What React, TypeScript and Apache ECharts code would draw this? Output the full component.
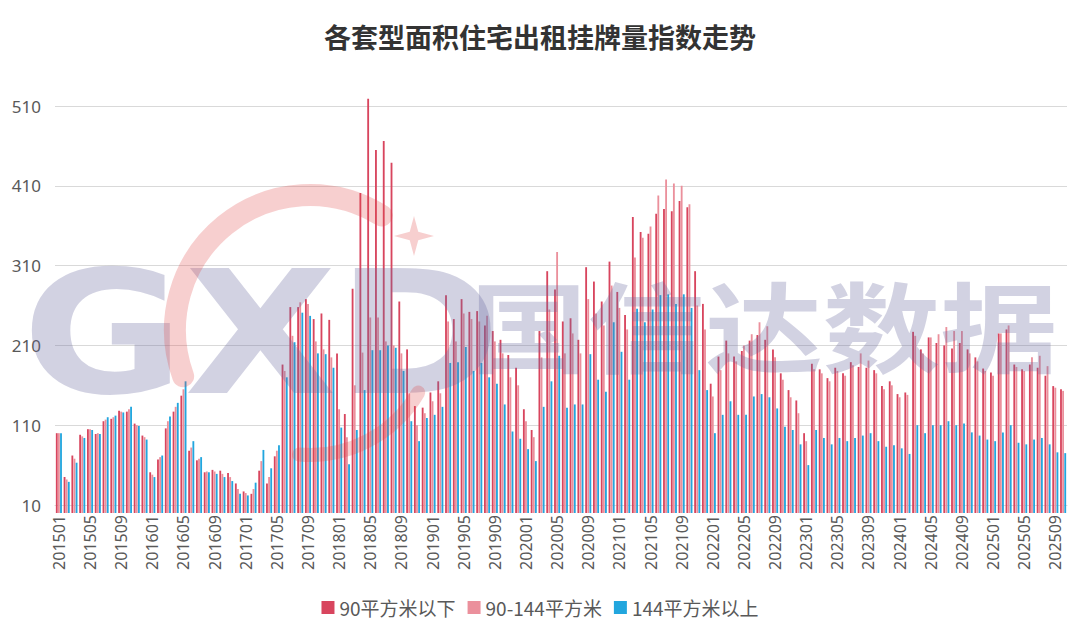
import React, { useEffect, useRef } from "react";
import * as echarts from "echarts";

const months: string[] = [];
for (let y = 2015; y <= 2025; y++) {
  for (let m = 1; m <= 12; m++) {
    if (y === 2025 && m > 10) break;
    months.push(`${y}${String(m).padStart(2, "0")}`);
  }
}

const seriesNames = ["90平方米以下", "90-144平方米", "144平方米以上"];

// 90平方米以下
const under90 = [
  100, 45, 72, 98, 105, 99, 115, 118, 128, 127, 112, 97,
  51, 67, 106, 127, 147, 78, 66, 51, 54, 53, 50, 37,
  27, 24, 53, 37, 71, 186, 258, 258, 268, 243, 250, 242,
  200, 124, 281, 401, 519, 455, 466, 439, 265, 205, 134, 132,
  151, 165, 273, 243, 268, 252, 253, 235, 228, 217, 198, 182,
  130, 104, 228, 303, 280, 240, 244, 217, 308, 290, 265, 315,
  277, 248, 371, 352, 350, 375, 381, 378, 391, 383, 303, 262,
  162, 196, 216, 196, 203, 216, 223, 217, 205, 175, 154, 141,
  100, 187, 180, 169, 182, 175, 189, 183, 182, 179, 159, 165,
  149, 151, 227, 205, 220, 213, 210, 206, 213, 205, 195, 181,
  176, 225, 230, 186, 180, 186, 182, 172, 159, 155,
];

// 90-144平方米
const mid90to144 = [
  100, 42, 68, 96, 105, 100, 117, 120, 127, 130, 110, 95,
  48, 70, 115, 133, 155, 82, 68, 52, 52, 49, 45, 30,
  25, 30, 65, 45, 78, 178, 222, 264, 262, 215, 205, 195,
  130, 95, 160, 201, 245, 245, 215, 210, 200, 150, 110, 125,
  140, 150, 240, 215, 250, 243, 240, 247, 215, 200, 170, 160,
  115, 95, 195, 255, 327, 200, 225, 200, 268, 250, 235, 285,
  257, 230, 320, 345, 359, 398, 418, 413, 410, 387, 260, 230,
  146, 179, 200, 190, 210, 224, 239, 234, 195, 167, 145, 125,
  90, 180, 175, 165, 178, 172, 185, 200, 191, 175, 155, 160,
  145, 148, 222, 200, 220, 224, 233, 228, 228, 200, 190, 178,
  172, 225, 235, 183, 178, 195, 197, 184, 157, 153,
];

// 144平方米以上
const over144 = [
  100, 39, 63, 94, 104, 99, 120, 122, 126, 133, 109, 92,
  45, 72, 121, 138, 165, 90, 70, 51, 49, 45, 40, 24,
  22, 38, 79, 56, 85, 170, 214, 251, 247, 200, 199, 182,
  107, 61, 104, 154, 204, 204, 210, 207, 178, 115, 90, 119,
  123, 133, 188, 189, 208, 178, 188, 170, 162, 136, 102, 93,
  80, 65, 133, 165, 197, 132, 136, 136, 199, 167, 152, 239,
  202, 167, 256, 239, 255, 273, 274, 262, 274, 257, 179, 154,
  100, 123, 140, 123, 123, 146, 149, 145, 131, 108, 104, 86,
  60, 104, 94, 86, 94, 90, 94, 97, 100, 90, 83, 85,
  81, 74, 110, 100, 110, 110, 115, 110, 112, 101, 97, 92,
  90, 101, 110, 88, 86, 92, 94, 86, 76, 75,
];

const yMin = 10;
const yMax = 510;
const yStep = 100;

const colors = ["#d8455e", "#eb909c", "#22a6de"];

const starPoints = (cx: number, cy: number, R: number, r: number) => {
  const pts: number[][] = [];
  for (let i = 0; i < 8; i++) {
    const a = (Math.PI / 4) * i - Math.PI / 2;
    const rad = i % 2 === 0 ? R : r;
    pts.push([cx + rad * Math.cos(a), cy + rad * Math.sin(a)]);
  }
  return pts;
};

export default function App() {
  const ref = useRef<HTMLDivElement>(null);
  useEffect(() => {
    if (!ref.current) return;
    const chart = echarts.init(ref.current, undefined, { renderer: "svg" });
    const wmColor = "rgba(106,106,160,0.3)";
    const redWm = "rgba(225,70,70,0.26)";
    chart.setOption({
      animation: false,
      backgroundColor: "#ffffff",
      title: {
        text: "各套型面积住宅出租挂牌量指数走势",
        left: "center",
        top: 18,
        textStyle: {
          fontFamily: "Noto Sans CJK SC",
          fontSize: 27,
          fontWeight: "bold",
          color: "#333333",
        },
      },
      legend: {
        data: seriesNames,
        bottom: 22,
        left: "center",
        icon: "rect",
        itemWidth: 13,
        itemHeight: 13,
        itemGap: 12,
        textStyle: {
          fontFamily: "Noto Sans CJK SC",
          fontSize: 19,
          color: "#595959",
        },
      },
      grid: { left: 55, right: 13, top: 106, bottom: 139, containLabel: false },
      xAxis: {
        type: "category",
        data: months,
        axisLine: { lineStyle: { color: "#d9d9d9" } },
        axisTick: { show: false },
        axisLabel: {
          interval: 3,
          rotate: 90,
          margin: 10,
          fontFamily: "Noto Sans",
          fontSize: 16,
          color: "#595959",
        },
      },
      yAxis: {
        type: "value",
        min: yMin,
        max: yMax,
        interval: yStep,
        axisLine: { show: false },
        axisTick: { show: false },
        splitLine: { lineStyle: { color: "#d9d9d9", width: 1 } },
        axisLabel: {
          margin: 14,
          fontFamily: "Noto Sans",
          fontSize: 17,
          color: "#595959",
        },
      },
      series: [under90, mid90to144, over144].map((d, i) => ({
        name: seriesNames[i],
        type: "bar",
        data: d,
        clip: false,
        barGap: "15%",
        barCategoryGap: "22%",
        itemStyle: { color: colors[i] },
      })),
      graphic: [
        {
          type: "text",
          x: 22,
          y: 334,
          z: 100,
          scaleX: 1.15,
          silent: true,
          style: {
            text: "GXD",
            fontFamily: "DejaVu Sans",
            fontWeight: "bold",
            fontSize: 172,
            fill: wmColor,
            textAlign: "left",
            textVerticalAlign: "middle",
          },
        },
        {
          type: "text",
          x: 470,
          y: 322,
          z: 100,
          scaleX: 1.2,
          silent: true,
          style: {
            text: "国信达数据",
            fontFamily: "Noto Sans CJK SC",
            fontWeight: "bold",
            fontSize: 98,
            fill: wmColor,
            textAlign: "left",
            textVerticalAlign: "middle",
          },
        },
        {
          type: "arc",
          z: 101,
          silent: true,
          shape: {
            cx: 310,
            cy: 330,
            r: 135,
            startAngle: (160 * Math.PI) / 180,
            endAngle: (302 * Math.PI) / 180,
            clockwise: true,
          },
          style: { stroke: redWm, lineWidth: 22, fill: "none", lineCap: "round" },
        },
        {
          type: "arc",
          z: 101,
          silent: true,
          shape: {
            cx: 310,
            cy: 330,
            r: 125,
            startAngle: (30 * Math.PI) / 180,
            endAngle: (95 * Math.PI) / 180,
            clockwise: true,
          },
          style: { stroke: redWm, lineWidth: 14, fill: "none", lineCap: "round" },
        },
        {
          type: "polygon",
          z: 101,
          silent: true,
          shape: { points: starPoints(414, 236, 20, 6) },
          style: { fill: redWm },
        },
      ],
    });
    return () => chart.dispose();
  }, []);
  return (
    <div
      ref={ref}
      style={{ position: "fixed", left: 0, top: 0, width: 1080, height: 644 }}
    />
  );
}
